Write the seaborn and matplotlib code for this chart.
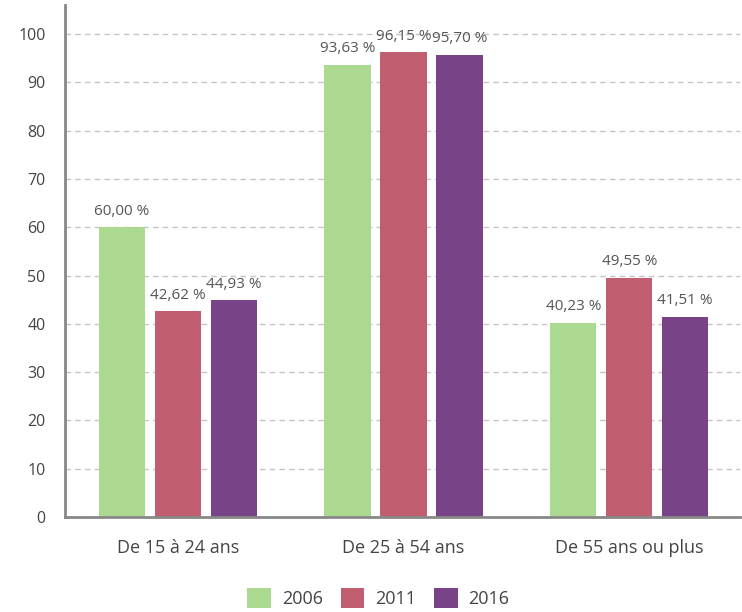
import pandas as pd
import seaborn as sns
import matplotlib.pyplot as plt

groupes = ["De 15 à 24 ans", "De 25 à 54 ans", "De 55 ans ou plus"]
annees = ["2006", "2011", "2016"]
val_2006 = [60.00, 93.63, 40.23]
val_2011 = [42.62, 96.15, 49.55]
val_2016 = [44.93, 95.70, 41.51]
couleurs = ["#aad98f", "#c05d6f", "#784487"]

rows = []
for annee, vals in zip(annees, [val_2006, val_2011, val_2016]):
    for g, v in zip(groupes, vals):
        rows.append({"groupe": g, "annee": annee, "valeur": v})
df = pd.DataFrame(rows)

sns.set_style("white")
plt.rcParams["font.family"] = ["Open Sans", "DejaVu Sans"]

fig = plt.figure(figsize=(7.42, 6.12), dpi=100)
ax = fig.add_axes([0.0876, 0.155, 0.9094, 0.837])

ax.yaxis.grid(True, linestyle=(0, (4, 3)), color="#c4c4c4", linewidth=1)
ax.set_axisbelow(True)

sns.barplot(data=df, x="groupe", y="valeur", hue="annee", palette=couleurs,
            width=0.743, gap=0.17, saturation=1, linewidth=0, ax=ax, legend=True)

for cont in ax.containers:
    ax.bar_label(cont, labels=[f"{v:.2f} %".replace(".", ",") for v in cont.datavalues],
                 padding=6, fontsize=11, color="#555555")

ax.set_xlim(-0.5, 2.49)
ax.set_ylim(0, 106)
ax.set_yticks(range(0, 101, 10))
ax.set_xlabel("")
ax.set_ylabel("")

for s in ["top", "right"]:
    ax.spines[s].set_visible(False)
for s in ["left", "bottom"]:
    ax.spines[s].set_color("#888888")
    ax.spines[s].set_linewidth(2)

ax.tick_params(axis="y", length=6, width=2, color="#888888", labelsize=11.5, labelcolor="#444444", pad=8)
ax.tick_params(axis="x", length=6, width=2, color="#888888", labelsize=13, labelcolor="#444444", pad=10)

handles, labels = ax.get_legend_handles_labels()
ax.get_legend().remove()
fig.legend(handles, labels, loc="lower center", ncol=3, frameon=False,
           bbox_to_anchor=(0.51, -0.02), fontsize=13, labelcolor="#444444",
           handlelength=1.3, handleheight=1.3, columnspacing=1.0, handletextpad=0.6)

fig.savefig("out.png", dpi=100)
